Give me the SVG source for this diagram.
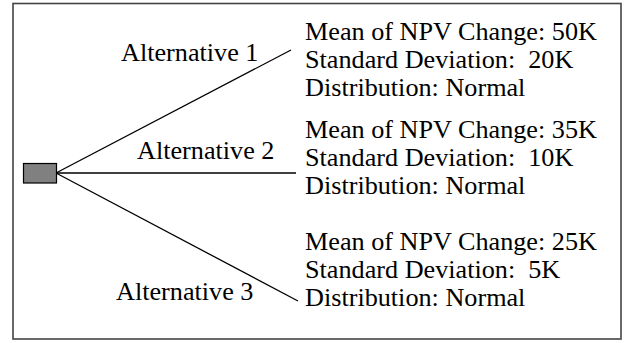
<svg xmlns="http://www.w3.org/2000/svg" width="626" height="343" viewBox="0 0 626 343">
<style>
text{font-family:"Liberation Serif","Times New Roman",serif;font-size:26.2px;fill:#000;white-space:pre}
.c{stroke:#000;stroke-width:1.3;fill:none}
</style>
<rect x="0" y="0" width="626" height="343" fill="#fff"/>
<rect id="frame" x="13" y="3.5" width="608" height="335.5" fill="none" stroke="#444" stroke-width="1.6"/>
<g id="connectors">
<line class="c" x1="56" y1="173" x2="291" y2="50"/>
<line class="c" x1="56" y1="173" x2="296" y2="173"/>
<line class="c" x1="56" y1="173" x2="298" y2="301"/>
</g>
<g id="decision"><rect x="23.5" y="163.5" width="33" height="19.5" fill="#808080" stroke="#000" stroke-width="1.2"/></g>
<g id="alt1"><text x="121" y="61">Alternative 1</text></g>
<g id="alt2"><text x="137" y="159">Alternative 2</text></g>
<g id="alt3"><text x="116" y="300">Alternative 3</text></g>
<g id="outcome1">
<text x="305" y="40" xml:space="preserve">Mean of NPV Change: 50K</text>
<text x="305" y="68" xml:space="preserve">Standard Deviation:  20K</text>
<text x="305" y="96" xml:space="preserve">Distribution: Normal</text>
</g>
<g id="outcome2">
<text x="305" y="138" xml:space="preserve">Mean of NPV Change: 35K</text>
<text x="305" y="166" xml:space="preserve">Standard Deviation:  10K</text>
<text x="305" y="194" xml:space="preserve">Distribution: Normal</text>
</g>
<g id="outcome3">
<text x="305" y="250" xml:space="preserve">Mean of NPV Change: 25K</text>
<text x="305" y="278" xml:space="preserve">Standard Deviation:  5K</text>
<text x="305" y="306" xml:space="preserve">Distribution: Normal</text>
</g>
</svg>
